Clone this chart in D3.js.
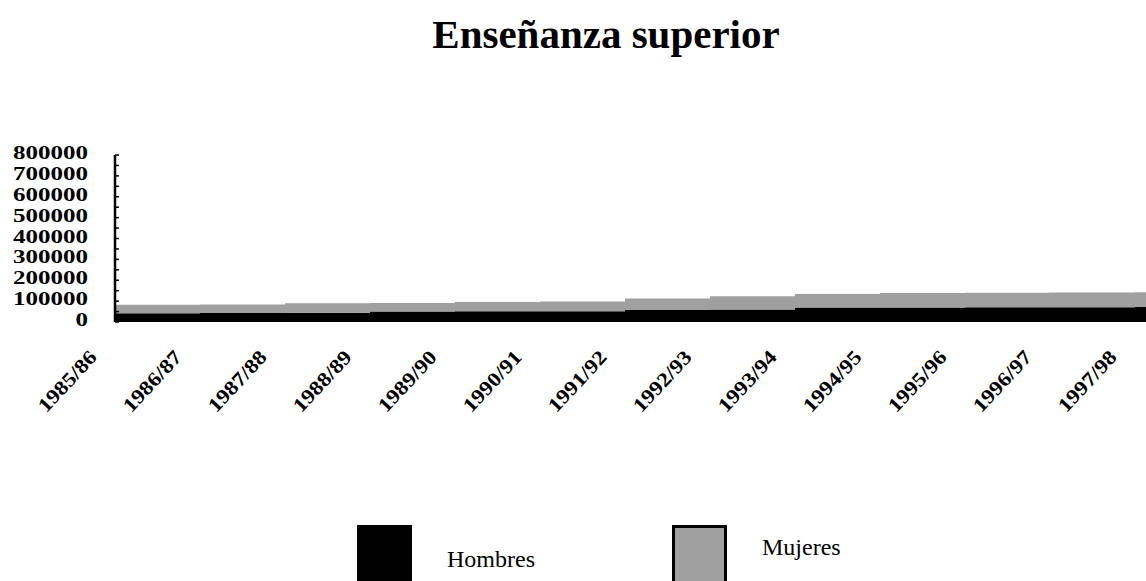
<!DOCTYPE html>
<html>
<head>
<meta charset="utf-8">
<script src="https://cdn.jsdelivr.net/npm/d3@7"></script>
<style>
  body { margin: 0; background: #fff; }
  svg { display: block; }
</style>
</head>
<body>
<div id="chart"></div>
<script>
// data
var cursos = ["1985/86","1986/87","1987/88","1988/89","1989/90","1990/91","1991/92",
              "1992/93","1993/94","1994/95","1995/96","1996/97","1997/98"];
var hombres = [42000, 43000, 44000, 50000, 51000, 52000, 57000, 60000, 69000, 70000, 71000, 71000, 72000];
var mujeres = [41000, 41000, 46000, 41000, 45000, 46000, 55000, 63000, 65000, 69000, 69000, 70000, 70000];
var yTicks = [0, 100000, 200000, 300000, 400000, 500000, 600000, 700000, 800000];
var series = ["Hombres", "Mujeres"];
var colores = {"Hombres": "#000000", "Mujeres": "#a0a0a0"};

var width = 1146, height = 581;
var svg = d3.select("#chart").append("svg")
    .attr("width", width)
    .attr("height", height);

// title
svg.append("text")
    .attr("x", 606)
    .attr("y", 48)
    .attr("text-anchor", "middle")
    .style("font-family", "'Liberation Serif', 'Times New Roman', serif")
    .style("font-weight", "bold")
    .style("font-size", "41px")
    .text("Enseñanza superior");

var x = d3.scaleBand()
    .domain(cursos)
    .range([115, 115 + 85 * cursos.length])
    .padding(0);

var y = d3.scaleLinear()
    .domain([0, 800000])
    .range([322, 155]);

var rows = cursos.map(function(c, i) {
  return {curso: c, Hombres: hombres[i], Mujeres: mujeres[i]};
});
var stacked = d3.stack().keys(series)(rows);

var area = d3.area()
    .curve(d3.curveStepAfter)
    .x(function(d) { return d.x; })
    .y0(function(d) { return y(d.v0); })
    .y1(function(d) { return y(d.v1); });

svg.append("defs").append("clipPath").attr("id", "clip")
  .append("rect").attr("x", 0).attr("y", 0).attr("width", width).attr("height", height);

var plot = svg.append("g").attr("clip-path", "url(#clip)");

stacked.forEach(function(layer) {
  var pts = layer.map(function(d) {
    return {x: x(d.data.curso), v0: d[0], v1: d[1]};
  });
  var last = layer[layer.length - 1];
  pts.push({x: x(last.data.curso) + x.bandwidth(), v0: last[0], v1: last[1]});
  plot.append("path")
      .datum(pts)
      .attr("fill", colores[layer.key])
      .attr("d", area);
});

// y axis
var yAxis = svg.append("g");
yAxis.append("line")
    .attr("x1", 115).attr("x2", 115)
    .attr("y1", y(800000)).attr("y2", y(0))
    .attr("stroke", "#000")
    .attr("stroke-width", 2.5);

yAxis.selectAll("line.tick")
    .data(d3.range(0, 800001, 50000))
    .enter().append("line")
    .attr("class", "tick")
    .attr("x1", 115).attr("x2", 119)
    .attr("y1", function(d) { return y(d); })
    .attr("y2", function(d) { return y(d); })
    .attr("stroke", "#000")
    .attr("stroke-width", 1.5);

yAxis.selectAll("text")
    .data(yTicks)
    .enter().append("text")
    .attr("x", 88)
    .attr("y", function(d) { return y(d) + 4; })
    .attr("text-anchor", "end")
    .style("font-family", "'Liberation Serif', 'Times New Roman', serif")
    .style("font-weight", "bold")
    .style("font-size", "19px")
    .attr("textLength", function(d) { return String(d).length * 12.5; })
    .attr("lengthAdjust", "spacingAndGlyphs")
    .text(function(d) { return d; });

// x labels, rotated
svg.append("g").selectAll("text")
    .data(cursos)
    .enter().append("text")
    .attr("transform", function(d) {
      return "translate(" + (x(d) - 17) + ",358) rotate(-47)";
    })
    .attr("text-anchor", "end")
    .style("font-family", "'Liberation Serif', 'Times New Roman', serif")
    .style("font-weight", "bold")
    .style("font-size", "20px")
    .attr("textLength", 76)
    .attr("lengthAdjust", "spacingAndGlyphs")
    .text(function(d) { return d; });

// legend
var legend = svg.append("g");
legend.append("rect")
    .attr("x", 357).attr("y", 525)
    .attr("width", 55).attr("height", 70)
    .attr("fill", colores["Hombres"]);
legend.append("text")
    .attr("x", 447).attr("y", 567)
    .style("font-family", "'Liberation Serif', 'Times New Roman', serif")
    .style("font-size", "24px")
    .text("Hombres");

legend.append("rect")
    .attr("x", 673.5).attr("y", 526.5)
    .attr("width", 52).attr("height", 70)
    .attr("fill", colores["Mujeres"])
    .attr("stroke", "#000")
    .attr("stroke-width", 3);
legend.append("text")
    .attr("x", 762).attr("y", 555)
    .style("font-family", "'Liberation Serif', 'Times New Roman', serif")
    .style("font-size", "24px")
    .text("Mujeres");
</script>
</body>
</html>
